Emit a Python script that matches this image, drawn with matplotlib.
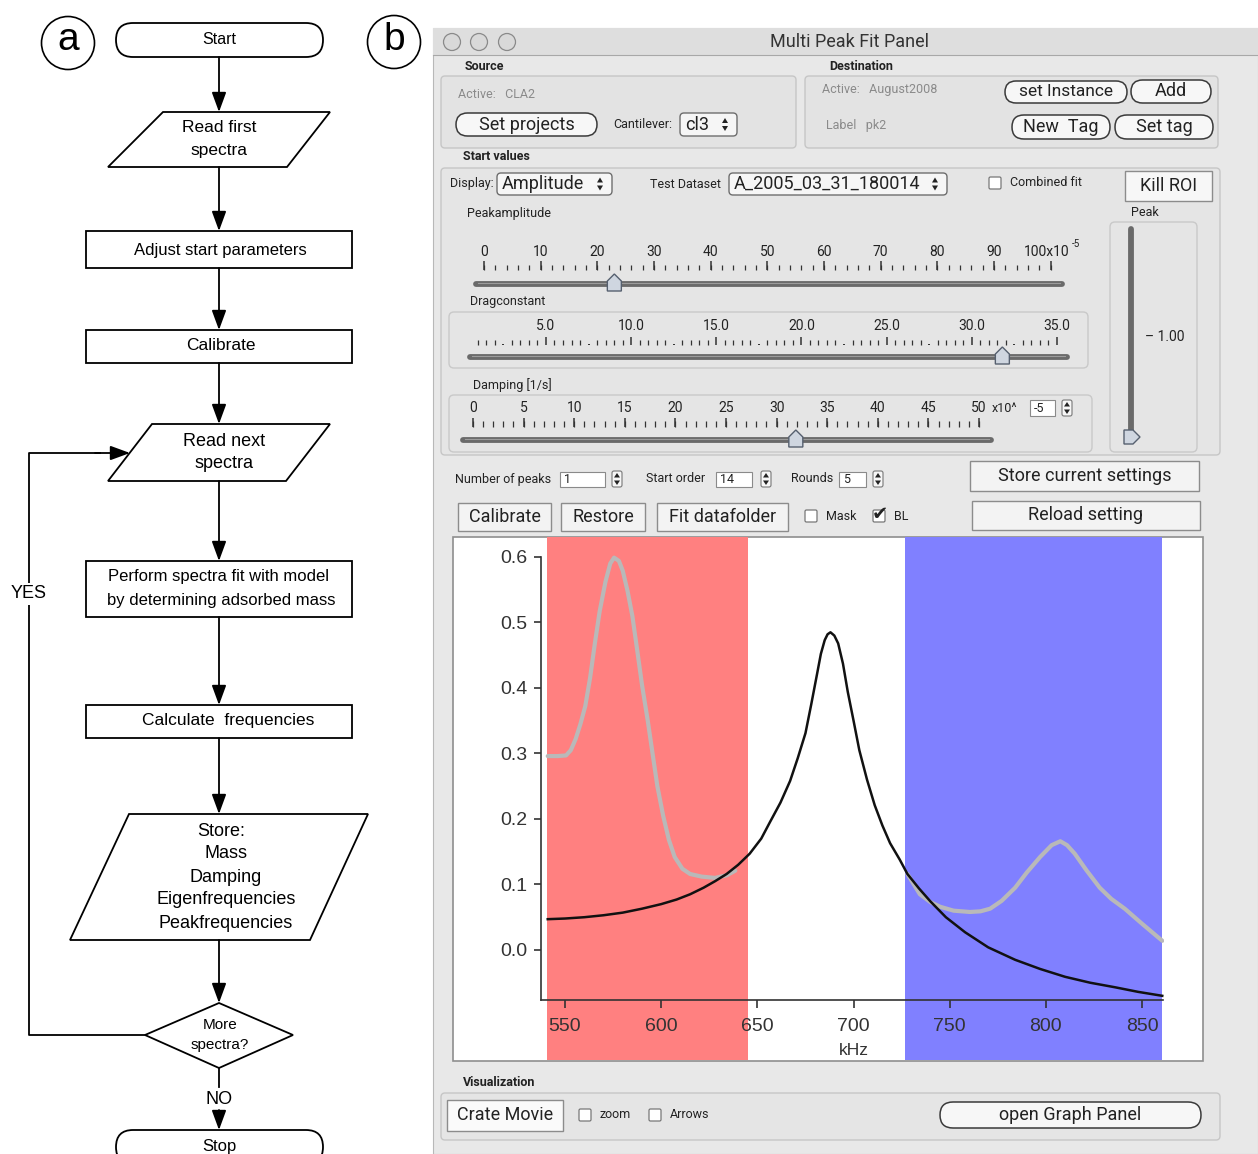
import matplotlib.pyplot as plt
from matplotlib.patches import FancyBboxPatch, Rectangle, Polygon, Circle

W, H = 1258, 1154
GUI = ['Roboto', 'DejaVu Sans']
FLOW = ['Liberation Sans', 'DejaVu Sans']

# spectrum in the fit panel (kHz, amplitude)
fit_khz = [541, 550, 560, 570, 580, 590, 600, 608, 615, 622, 628, 634, 640, 646, 652, 656.5, 662, 667, 671,
           675, 678, 681, 683, 685, 686.5, 688, 690, 692, 694.5, 697, 700, 703, 707, 711, 715, 719, 724,
           728, 734, 740, 748, 758, 770, 784, 797, 810, 823, 836, 848, 860.5]
fit_amp = [0.047, 0.048, 0.050, 0.053, 0.057, 0.063, 0.070, 0.077, 0.085, 0.095, 0.105, 0.116, 0.130, 0.147,
           0.170, 0.195, 0.225, 0.258, 0.293, 0.331, 0.375, 0.421, 0.452, 0.473, 0.482, 0.485, 0.480, 0.468,
           0.437, 0.394, 0.350, 0.305, 0.260, 0.221, 0.190, 0.163, 0.138, 0.116, 0.094, 0.074, 0.050, 0.027,
           0.004, -0.015, -0.029, -0.041, -0.050, -0.057, -0.064, -0.070]
meas_khz_low = [541, 546, 550.5, 553, 555.5, 558, 560.5, 563, 565.5, 568, 571, 573.5, 575.5, 578, 580,
                582.5, 585, 587.5, 590, 593, 595.5, 598, 601, 604, 607, 611, 615, 621, 628, 634, 638.5]
meas_amp_low = [0.296, 0.296, 0.297, 0.305, 0.322, 0.345, 0.372, 0.415, 0.468, 0.517, 0.562, 0.590, 0.599,
                0.594, 0.579, 0.548, 0.510, 0.458, 0.405, 0.350, 0.300, 0.250, 0.205, 0.168, 0.142, 0.124,
                0.116, 0.112, 0.110, 0.114, 0.121]
meas_khz_high = [728, 734.5, 740, 745, 752, 760.5, 766, 771, 777, 784, 790, 797, 803, 807.5, 811, 815, 821,
                 828, 834, 841, 850, 860.5]
meas_amp_high = [0.116, 0.085, 0.073, 0.066, 0.060, 0.058, 0.059, 0.063, 0.075, 0.095, 0.118, 0.142, 0.160,
                 0.166, 0.160, 0.147, 0.122, 0.095, 0.078, 0.063, 0.040, 0.014]
roi_left = (540.6, 645.1)
roi_right = (726.8, 860.4)
khz_ticks = [550, 600, 650, 700, 750, 800, 850]
amp_ticks = [0.0, 0.1, 0.2, 0.3, 0.4, 0.5, 0.6]

# slider scales and current settings
peakamp_labels = [0, 10, 20, 30, 40, 50, 60, 70, 80, 90]
drag_labels = [5.0, 10.0, 15.0, 20.0, 25.0, 30.0, 35.0]
damp_labels = [0, 5, 10, 15, 20, 25, 30, 35, 40, 45, 50]
peakamp_value = 23
drag_value = 31.8
damp_value = 31.9

fig = plt.figure(figsize=(W / 100, H / 100), dpi=100)
fig.patch.set_facecolor('white')
ax = fig.add_axes([0, 0, 1, 1])
ax.set_xlim(0, W)
ax.set_ylim(H, 0)
ax.axis('off')


def t(x, y, s, size, ha='center', color='#222', weight='normal', family=GUI, z=6, **kw):
    ax.text(x, y, s, fontsize=size, ha=ha, va='center', color=color, fontweight=weight,
            family=family, zorder=z, **kw)


def box(x0, y0, x1, y1, r=0, fc='none', ec='#000', lw=1.0, z=2):
    if r:
        p = FancyBboxPatch((x0, y0), x1 - x0, y1 - y0, boxstyle=f'round,pad=0,rounding_size={r}',
                           fc=fc, ec=ec, lw=lw, zorder=z)
    else:
        p = Rectangle((x0, y0), x1 - x0, y1 - y0, fc=fc, ec=ec, lw=lw, zorder=z)
    ax.add_patch(p)


def updown(cx, cy, s=5):
    ax.add_patch(Polygon([(cx - 3, cy - 1.5), (cx + 3, cy - 1.5), (cx, cy - 1.5 - s)], fc='#222', zorder=5))
    ax.add_patch(Polygon([(cx - 3, cy + 1.5), (cx + 3, cy + 1.5), (cx, cy + 1.5 + s)], fc='#222', zorder=5))


def stepper(cx, cy):
    box(cx - 5, cy - 8, cx + 5, cy + 8, r=2, fc='#f6f6f6', ec='#777', lw=0.8, z=4)
    updown(cx, cy, 4.5)


def pill(x0, y0, x1, y1, label, size=13):
    box(x0, y0, x1, y1, r=(y1 - y0) / 2, fc='#f7f7f7', ec='#3a3a3a', lw=1.1, z=3)
    t((x0 + x1) / 2, (y0 + y1) / 2, label, size)


def button(x0, y0, x1, y1, label, size=13, fc='#f3f3f3'):
    box(x0, y0, x1, y1, fc=fc, ec='#8c8c8c', lw=1.0, z=3)
    t((x0 + x1) / 2, (y0 + y1) / 2, label, size)


def popup(x0, y0, x1, y1, label, size=13):
    box(x0, y0, x1, y1, r=4, fc='#f6f6f6', ec='#6e6e6e', lw=1.0, z=3)
    t(x0 + 5, (y0 + y1) / 2, label, size, ha='left')
    updown(x1 - 12, (y0 + y1) / 2)


def checkbox(x, y, checked=False):
    box(x - 6, y - 6, x + 6, y + 6, r=1.5, fc='white', ec='#777', lw=0.9, z=3)
    if checked:
        t(x + 1, y - 1, '\u2714', 14, family=['DejaVu Sans'], color='#222')


def field(x0, y0, x1, y1, label):
    box(x0, y0, x1, y1, fc='white', ec='#8a8a8a', lw=0.8, z=3)
    t(x0 + 4, (y0 + y1) / 2, label, 9, ha='left')


def hslider(x0, x1, y, tx):
    ax.plot([x0, x1], [y, y], color='#6a6a6a', lw=4.2, solid_capstyle='round', zorder=3)
    ax.plot([x0 + 2, x1 - 2], [y - 1, y - 1], color='#9c9c9c', lw=0.8, zorder=3)
    ax.add_patch(Polygon([(tx - 7, y + 7), (tx + 7, y + 7), (tx + 7, y - 3), (tx, y - 10), (tx - 7, y - 3)],
                         fc='#cfd6e0', ec='#56606f', lw=1.0, zorder=4))


def ticks(vals, v0, p0, v1, p1, ya, yb, lw=0.9):
    xs = [p0 + (v - v0) * (p1 - p0) / (v1 - v0) for v in vals]
    ax.vlines(xs, ya, yb, color='#333', lw=lw, zorder=3)


# ---------------------------------------------------------------- panel (a)
LW = 1.3


def arrow(x, y0, y1):
    ax.annotate('', xy=(x, y1), xytext=(x, y0),
                arrowprops=dict(arrowstyle='-|>,head_length=0.6,head_width=0.22', color='k', lw=LW,
                                mutation_scale=20, shrinkA=0, shrinkB=0), zorder=3)


def para(tl, tr, yt, bl, br, yb):
    ax.add_patch(Polygon([(tl, yt), (tr, yt), (br, yb), (bl, yb)], fc='white', ec='k', lw=LW, zorder=2))


ax.add_patch(Circle((68, 43), 26.5, fc='none', ec='k', lw=1.2))
t(68, 40, 'a', 28, family=FLOW, color='k')
ax.add_patch(Circle((394, 42), 26.5, fc='none', ec='k', lw=1.2))
t(394, 40, 'b', 28, family=FLOW, color='k')

box(116, 23, 323, 57, r=17, fc='white', ec='k', lw=LW)
t(219, 40, 'Start', 11.5, family=FLOW, color='k')
arrow(219, 57, 112)
para(163, 330, 112, 108, 287, 167)
t(219, 128, 'Read first', 12.5, family=FLOW, color='k')
t(219, 151, 'spectra', 12.5, family=FLOW, color='k')
arrow(219, 167, 231)
box(86, 231, 352, 268, fc='white', ec='k', lw=LW)
t(220, 251, 'Adjust start parameters', 12, family=FLOW, color='k')
arrow(219, 268, 330)
box(86, 330, 352, 363, fc='white', ec='k', lw=LW)
t(221, 346, 'Calibrate', 12.5, family=FLOW, color='k')
arrow(219, 363, 424)
para(152, 330, 424, 108, 286, 481)
t(224, 441, 'Read next', 13, family=FLOW, color='k')
t(224, 464, 'spectra', 13, family=FLOW, color='k')
arrow(219, 481, 561)
box(86, 561, 352, 617, fc='white', ec='k', lw=LW)
t(218, 577, 'Perform spectra fit with model', 12, family=FLOW, color='k')
t(221, 600, 'by determining adsorbed mass', 12, family=FLOW, color='k')
arrow(219, 617, 705)
box(86, 705, 352, 738, fc='white', ec='k', lw=LW)
t(228, 721, 'Calculate  frequencies', 12.5, family=FLOW, color='k')
arrow(219, 738, 814)
para(129, 368, 814, 70, 310, 940)
for yy, s in zip([831, 854, 877, 900, 923], ['Store:', 'Mass', 'Damping', 'Eigenfrequencies', 'Peakfrequencies']):
    t(226 if s != 'Store:' else 221, yy, s, 13, family=FLOW, color='k')
arrow(219, 940, 1003)
ax.add_patch(Polygon([(145, 1035), (219, 1003), (293, 1035), (219, 1068)], fc='white', ec='k', lw=LW, zorder=2))
t(220, 1025, 'More', 11, family=FLOW, color='k')
t(220, 1045, 'spectra?', 11, family=FLOW, color='k')
ax.plot([219, 219], [1068, 1087], color='k', lw=LW)
t(219, 1099, 'NO', 13, family=FLOW, color='k')
arrow(219, 1110, 1130)
box(116, 1130, 323, 1164, r=17, fc='white', ec='k', lw=LW)
t(219, 1146, 'Stop', 12, family=FLOW, color='k')
ax.plot([145, 29, 29, 100], [1035, 1035, 453, 453], color='k', lw=LW, zorder=2)
ax.annotate('', xy=(130, 453), xytext=(95, 453),
            arrowprops=dict(arrowstyle='-|>,head_length=0.6,head_width=0.22', color='k', lw=LW,
                            mutation_scale=20, shrinkA=0, shrinkB=0), zorder=3)
t(29, 594, 'YES', 13, family=FLOW, color='k',
  bbox=dict(fc='white', ec='none', pad=2))

# ---------------------------------------------------------------- panel (b) window
box(433, 28, 1258, 1154, fc='#e8e8e8', ec='#b8b8b8', lw=0.8, z=1)
box(433, 28, 1258, 55, fc='#dedede', ec='none', z=1)
ax.plot([433, 1258], [55, 55], color='#a8a8a8', lw=0.8, zorder=2)
for cx in [452, 479, 507]:
    ax.add_patch(Circle((cx, 42), 8.5, fc='#d9d9d9', ec='#8a8a8a', lw=0.9, zorder=3))
t(849, 42, 'Multi Peak Fit Panel', 13, color='#333')

t(465, 67, 'Source', 9, ha='left', weight='bold')
t(829, 67, 'Destination', 9, ha='left', weight='bold')
t(463, 157, 'Start values', 9, ha='left', weight='bold')
t(463, 1083, 'Visualization', 9, ha='left', weight='bold')

# source / destination
box(441, 76, 796, 148, r=4, fc='#e3e3e3', ec='#c6c6c6', lw=1.0)
box(805, 76, 1218, 148, r=4, fc='#e3e3e3', ec='#c6c6c6', lw=1.0)
t(458, 94, 'Active:   CLA2', 9, ha='left', color='#8a8a8a')
pill(456, 113, 597, 136, 'Set projects')
t(613, 125, 'Cantilever:', 9, ha='left')
popup(680, 113, 737, 136, 'cl3')
t(822, 90, 'Active:   August2008', 9, ha='left', color='#8a8a8a')
t(826, 126, 'Label   pk2', 9, ha='left', color='#8a8a8a')
pill(1005, 81, 1127, 103, 'set Instance', 12.5)
pill(1131, 80, 1211, 103, 'Add')
pill(1012, 115, 1110, 139, 'New  Tag')
pill(1115, 115, 1213, 139, 'Set tag')

# start values
box(441, 168, 1220, 455, r=4, fc='#e5e5e5', ec='#c6c6c6', lw=1.0)
t(450, 184, 'Display:', 9, ha='left')
popup(497, 173, 612, 195, 'Amplitude')
t(650, 184, 'Test Dataset', 9, ha='left')
popup(729, 173, 947, 195, 'A_2005_03_31_180014')
checkbox(995, 183)
t(1010, 183, 'Combined fit', 9, ha='left')
button(1125, 171, 1212, 201, 'Kill ROI', fc='#f7f7f7')

# peak amplitude slider
t(467, 214, 'Peakamplitude', 9, ha='left')
for v in peakamp_labels:
    t(484 + v * 5.667, 252, str(v), 10)
t(1047, 252, '100x10', 10)
t(1076, 244, '-5', 7)
ticks(range(0, 101, 2), 0, 484, 100, 1050.7, 265, 270)
ticks(range(0, 101, 10), 0, 484, 100, 1050.7, 261, 270, lw=1.1)
hslider(476, 1062, 284, 484 + peakamp_value * 5.667)

# drag constant slider
box(449, 312, 1088, 368, r=5, fc='#e5e5e5', ec='#c9c9c9', lw=1.0)
t(470, 302, 'Dragconstant', 9, ha='left')
for v in drag_labels:
    t(460.8 + v * 17.03, 326, f'{v:.1f}', 10)
ticks([v / 2 for v in range(2, 71) if v % 5], 0, 460.8, 35, 1056.9, 340, 345)
ticks([v / 2 for v in range(5, 71, 10)], 0, 460.8, 35, 1056.9, 344, 345, lw=1.4)
ticks(range(5, 36, 5), 0, 460.8, 35, 1056.9, 337, 345, lw=1.1)
hslider(470, 1067, 357, 460.8 + drag_value * 17.03)

# damping slider
box(449, 395, 1092, 452, r=5, fc='#e5e5e5', ec='#c9c9c9', lw=1.0)
t(473, 385, 'Damping [1/s]', 9, ha='left')
for v in damp_labels:
    t(473 + v * 10.12, 408, str(v), 10)
t(992, 408, 'x10^', 9, ha='left')
field(1030, 400, 1055, 416, '-5')
stepper(1067, 408)
ticks(range(0, 51), 0, 473, 50, 979, 421, 427)
ticks(range(0, 51, 5), 0, 473, 50, 979, 418, 427, lw=1.1)
hslider(463, 991, 440, 473 + damp_value * 10.12)

# peak vertical slider
box(1110, 222, 1197, 452, r=5, fc='#e5e5e5', ec='#c9c9c9', lw=1.0)
t(1145, 213, 'Peak', 9)
ax.plot([1131, 1131], [229, 437], color='#6a6a6a', lw=4.2, solid_capstyle='round', zorder=3)
ax.add_patch(Polygon([(1124, 430), (1133, 430), (1140, 437), (1133, 444), (1124, 444)],
                     fc='#cfd6e0', ec='#56606f', lw=1.0, zorder=4))
t(1145, 337, '\u2013 1.00', 10, ha='left')

# fit options
t(455, 479, 'Number of peaks', 9, ha='left')
field(560, 472, 605, 487, '1')
stepper(617, 479)
t(646, 479, 'Start order', 9, ha='left')
field(716, 472, 752, 487, '14')
stepper(766, 479)
t(791, 479, 'Rounds', 9, ha='left')
field(839, 472, 866, 487, '5')
stepper(878, 479)
button(970, 461, 1199, 491, 'Store current settings')
button(458, 503, 551, 531, 'Calibrate')
button(561, 503, 645, 531, 'Restore')
button(657, 503, 788, 531, 'Fit datafolder')
checkbox(811, 516)
t(826, 516, 'Mask', 9, ha='left')
checkbox(879, 516, checked=True)
t(894, 516, 'BL', 9, ha='left')
button(972, 501, 1200, 530, 'Reload setting')

# graph area
box(453, 537, 1203, 1061, fc='white', ec='#8e8e8e', lw=1.2, z=2)

# visualization
box(441, 1093, 1220, 1140, r=4, fc='#e5e5e5', ec='#c6c6c6', lw=1.0)
button(447, 1100, 563, 1131, 'Crate Movie', fc='#fafafa')
checkbox(585, 1115)
t(600, 1115, 'zoom', 9, ha='left')
checkbox(655, 1115)
t(670, 1115, 'Arrows', 9, ha='left')
pill(940, 1102, 1201, 1128, 'open Graph Panel')

# ---------------------------------------------------------------- spectrum plot
pax = fig.add_axes([541 / W, 1 - 1060 / H, (1164 - 541) / W, (1060 - 537) / H])
pax.set_xlim(537.5, 861.4)
pax.set_ylim(-0.168, 0.6305)
pax.patch.set_alpha(0)
pax.axvspan(*roi_left, color='#ff8080', lw=0, zorder=0)
pax.axvspan(*roi_right, color='#8080ff', lw=0, zorder=0)
pax.plot(meas_khz_low, meas_amp_low, color='#b9b9b9', lw=3.0, solid_capstyle='round', zorder=2)
pax.plot(meas_khz_high, meas_amp_high, color='#b9b9b9', lw=3.0, solid_capstyle='round', zorder=2)
pax.plot(fit_khz, fit_amp, color='#111111', lw=1.8, zorder=3)
for s in ['top', 'right']:
    pax.spines[s].set_visible(False)
pax.spines['bottom'].set_position(('data', -0.0763))
pax.spines['bottom'].set_bounds(537.5, 860.8)
pax.spines['left'].set_bounds(-0.0763, 0.6)
for s in ['bottom', 'left']:
    pax.spines[s].set_color('#333')
    pax.spines[s].set_linewidth(1.2)
pax.set_xticks(khz_ticks)
pax.set_yticks(amp_ticks)
pax.set_yticklabels([f'{v:.1f}' for v in amp_ticks])
pax.tick_params(axis='x', direction='out', length=6, width=1.2, color='#333', labelsize=14,
                labelcolor='#333', pad=7)
pax.tick_params(axis='y', direction='out', length=5, width=1.2, color='#333', labelsize=14,
                labelcolor='#333', pad=5)
for lab in pax.get_xticklabels() + pax.get_yticklabels():
    lab.set_family(FLOW)
pax.text(700, -0.153, 'kHz', fontsize=12.5, ha='center', va='center', color='#333', family=FLOW)

fig.savefig('out.png', dpi=100)
